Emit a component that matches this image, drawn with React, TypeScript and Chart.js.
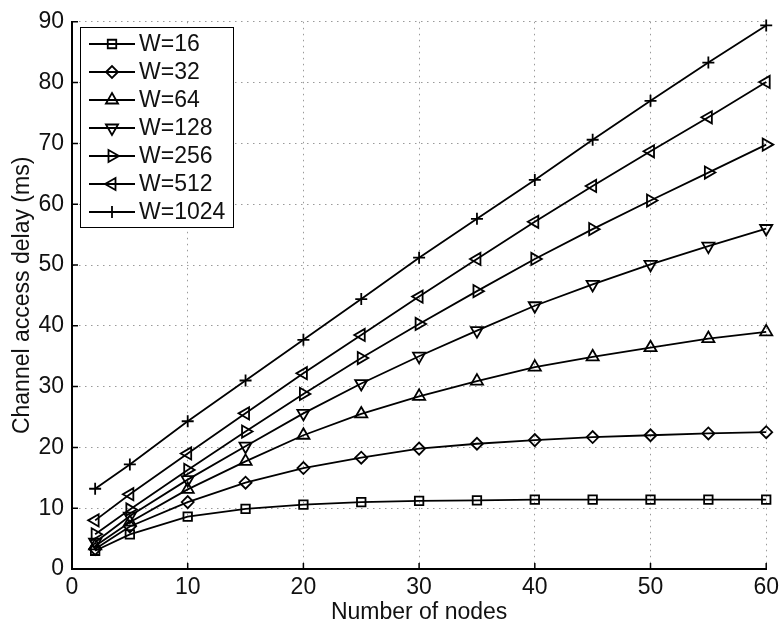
import React, { useEffect, useRef } from "react";
import { Chart, registerables } from "chart.js";
import { drawPoint } from "chart.js/helpers";

Chart.register(...registerables);

const nodes = [2, 5, 10, 15, 20, 25, 30, 35, 40, 45, 50, 55, 60];
const w16 = [3.0, 5.7, 8.6, 9.9, 10.6, 11.0, 11.2, 11.3, 11.4, 11.4, 11.4, 11.4, 11.4];
const w32 = [3.3, 7.0, 11.0, 14.2, 16.6, 18.3, 19.8, 20.6, 21.2, 21.7, 22.0, 22.3, 22.5];
const w64 = [3.8, 7.7, 13.1, 17.7, 22.0, 25.5, 28.4, 30.9, 33.2, 34.9, 36.4, 37.9, 39.0];
const w128 = [4.4, 8.7, 14.7, 20.2, 25.6, 30.5, 35.0, 39.2, 43.3, 46.8, 50.1, 53.1, 56.0];
const w256 = [5.7, 9.8, 16.3, 22.6, 28.8, 34.7, 40.3, 45.7, 51.0, 55.9, 60.6, 65.2, 69.8];
const w512 = [8.0, 12.3, 19.0, 25.6, 32.2, 38.5, 44.8, 51.0, 57.1, 63.0, 68.7, 74.3, 80.1];
const w1024 = [13.2, 17.2, 24.3, 31.0, 37.7, 44.4, 51.2, 57.6, 64.0, 70.6, 77.0, 83.3, 89.4];

const seriesLabels = ["W=16", "W=32", "W=64", "W=128", "W=256", "W=512", "W=1024"];
const seriesValues = [w16, w32, w64, w128, w256, w512, w1024];
const markerStyles = ["rect", "rectRot", "triangle", "triangle", "triangle", "triangle", "cross"];
const markerRotations = [0, 0, 0, 180, 90, 270, 0];
const markerRadii = [6, 6, 7, 7, 7, 7, 6];

const xTitle = "Number of nodes";
const yTitle = "Channel access delay (ms)";

const FONT = "'Liberation Sans', Arial, Helvetica, sans-serif";

const legendPlugin = {
  id: "insideLegend",
  afterDraw(chart: any) {
    const ctx = chart.ctx;
    const bx = 80, by = 27, bw = 153, bh = 200;
    ctx.save();
    ctx.fillStyle = "#fff";
    ctx.fillRect(bx, by, bw, bh);
    ctx.strokeStyle = "#000";
    ctx.lineWidth = 1;
    ctx.strokeRect(bx + 0.5, by + 0.5, bw, bh);
    ctx.font = "23px " + FONT;
    ctx.textBaseline = "middle";
    ctx.textAlign = "left";
    chart.data.datasets.forEach((ds: any, i: number) => {
      const y = by + 17 + i * 28;
      ctx.strokeStyle = "#000";
      ctx.lineWidth = 1.8;
      ctx.beginPath();
      ctx.moveTo(89, y);
      ctx.lineTo(135, y);
      ctx.stroke();
      ctx.fillStyle = "rgba(0,0,0,0)";
      drawPoint(ctx, {
        pointStyle: ds.pointStyle,
        rotation: ds.pointRotation,
        radius: ds.pointRadius,
        borderWidth: 1.8,
      } as any, 112, y);
      ctx.fillStyle = "#111";
      ctx.fillText(ds.label, 139, y + 1);
    });
    ctx.restore();
  },
};

const inwardTicks = {
  id: "inwardTicks",
  afterDraw(chart: any) {
    const ctx = chart.ctx;
    const { left, bottom } = chart.chartArea;
    const xs = chart.scales.x;
    const ys = chart.scales.y;
    ctx.save();
    ctx.strokeStyle = "#000";
    ctx.lineWidth = 1.5;
    ctx.beginPath();
    xs.ticks.forEach((t: any) => {
      const px = xs.getPixelForValue(t.value);
      ctx.moveTo(px, bottom);
      ctx.lineTo(px, bottom - 6);
    });
    ys.ticks.forEach((t: any) => {
      const py = ys.getPixelForValue(t.value);
      ctx.moveTo(left, py);
      ctx.lineTo(left + 6, py);
    });
    ctx.stroke();
    ctx.restore();
  },
};

export default function App() {
  const ref = useRef<HTMLCanvasElement | null>(null);
  useEffect(() => {
    if (!ref.current) return;
    const datasets = seriesValues.map((vals, i) => ({
      label: seriesLabels[i],
      data: vals.map((v, j) => ({ x: nodes[j], y: v })),
      showLine: true,
      borderColor: "#000",
      borderWidth: 1.8,
      backgroundColor: "rgba(0,0,0,0)",
      pointStyle: markerStyles[i],
      pointRotation: markerRotations[i],
      pointRadius: markerRadii[i],
      pointBorderWidth: 1.8,
      pointBorderColor: "#000",
      pointBackgroundColor: "rgba(0,0,0,0)",
      clip: false as any,
    }));
    const chart = new Chart(ref.current, {
      type: "scatter",
      data: { datasets },
      options: {
        animation: false,
        responsive: false,
        maintainAspectRatio: false,
        layout: { padding: { top: 19, right: 14, bottom: 0, left: 0 }, autoPadding: false } as any,
        plugins: { legend: { display: false }, tooltip: { enabled: false } },
        scales: {
          x: {
            type: "linear",
            min: 0,
            max: 60,
            ticks: { stepSize: 10, color: "#111", font: { size: 23, family: FONT }, padding: 5, maxRotation: 0 },
            grid: { color: "#9a9a9a", lineWidth: 1, drawTicks: false },
            border: { color: "#000", width: 2, dash: [1.5, 4.5] },
            title: { display: true, text: xTitle, color: "#111", font: { size: 23, family: FONT }, padding: { top: 0, bottom: 1 } },
            afterFit: (s: any) => { s.height = 58; },
          },
          y: {
            min: 0,
            max: 90,
            ticks: { stepSize: 10, color: "#111", font: { size: 23, family: FONT }, padding: 8 },
            grid: { color: "#9a9a9a", lineWidth: 1, drawTicks: false },
            border: { color: "#000", width: 2, dash: [1.5, 4.5] },
            title: { display: true, text: yTitle, color: "#111", font: { size: 23, family: FONT }, padding: { top: 9, bottom: 0 } },
            afterFit: (s: any) => { s.width = 72; },
          },
        },
      },
      plugins: [inwardTicks, legendPlugin],
    });
    return () => chart.destroy();
  }, []);
  return (
    <div style={{ position: "fixed", left: 0, top: 0, width: 784, height: 627, background: "#fff" }}>
      <canvas ref={ref} width={784} height={627} style={{ width: 784, height: 627 }} />
    </div>
  );
}
